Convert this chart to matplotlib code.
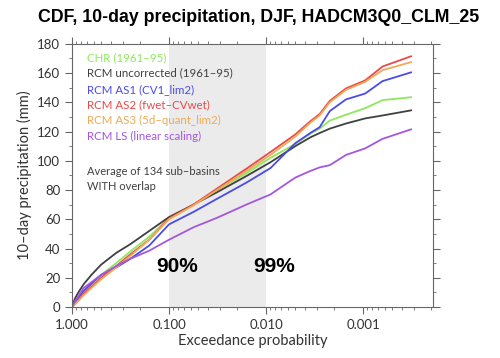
import numpy as np
import matplotlib
matplotlib.use('Agg')
import matplotlib.pyplot as plt
from matplotlib.ticker import MultipleLocator, FixedLocator, FixedFormatter, LogLocator

# Exceedance probabilities (shared by all curves)
prob = [1.0, 0.93, 0.85, 0.76, 0.63, 0.5, 0.35, 0.25, 0.16, 0.1, 0.056, 0.032,
        0.016, 0.009, 0.005, 0.0035, 0.0028, 0.0022, 0.0015, 0.00095, 0.00063, 0.00032]

# 10-day precipitation (mm)
chr_obs = [0, 3, 6, 10, 16, 22, 30, 38, 48, 61, 70, 80, 91.5, 102, 111.5, 118.5,
           122, 127.5, 131.5, 136, 141.5, 143.5]
rcm_unc = [0, 6, 10.5, 15.5, 22, 29, 37, 43, 52, 61.5, 70, 78.5, 89.5, 99, 110, 116,
           119, 122, 125.5, 129, 131, 134.5]
rcm_as1 = [0, 3, 7, 11, 16, 22, 27, 33, 42, 56.5, 65, 74, 85, 95, 112, 119,
           123, 134, 142, 146, 154.5, 160.5]
rcm_as2 = [0, 2, 5, 9, 14, 20, 28, 36, 46, 60.5, 70, 81, 94.5, 106, 118, 127,
           132, 141, 149.5, 155, 164.5, 171.5]
rcm_as3 = [0, 2, 4.5, 8, 13, 19, 27, 35, 46, 60, 69.5, 80, 93, 104, 116.5, 126,
           131, 140, 148.5, 154, 162, 167.5]
rcm_ls = [0, 4, 8, 13, 17, 22, 28, 33, 38.5, 46, 54.5, 61, 70, 77, 88.5, 93,
          95.5, 97, 104, 108.5, 115, 121.5]

labels = ['CHR (1961–95)', 'RCM uncorrected (1961–95)', 'RCM AS1 (CV1_lim2)',
          'RCM AS2 (fwet–CVwet)', 'RCM AS3 (5d–quant_lim2)', 'RCM LS (linear scaling)']
colors = ['#8ee85c', '#404040', '#4b4be6', '#e84a4a', '#f0a955', '#a556e0']
series = [chr_obs, rcm_unc, rcm_as1, rcm_as2, rcm_as3, rcm_ls]

xticks = [1.0, 0.1, 0.01, 0.001]
xticklabels = ['1.000', '0.100', '0.010', '0.001']

fig = plt.figure(figsize=(5, 3.58), dpi=100)
ax = fig.add_axes([0.144, 0.1425, 0.722, 0.735])

# shaded 90%-99% band
ax.axvspan(0.1, 0.01, color='#ebebeb', zorder=0, lw=0)

for vals, lab, c in zip(series, labels, colors):
    ax.plot(prob, vals, color=c, lw=1.3, label=lab)

ax.set_xscale('log')
ax.set_xlim(1.0, 1.9e-4)
ax.set_ylim(0, 180)

ax.xaxis.set_major_locator(FixedLocator(xticks))
ax.xaxis.set_major_formatter(FixedFormatter(xticklabels))
ax.xaxis.set_minor_locator(LogLocator(base=10, subs=np.arange(2, 10)))
ax.xaxis.set_minor_formatter(FixedFormatter([]))
ax.yaxis.set_major_locator(MultipleLocator(20))
ax.yaxis.set_minor_locator(MultipleLocator(10))

ax.tick_params(which='both', direction='out', top=True, right=True,
               color='#666666', labelsize=9.5, labelcolor='#333333')
ax.tick_params(which='major', length=5, width=0.8)
ax.tick_params(which='minor', length=2.5, width=0.6)
ax.tick_params(axis='x', which='both', labeltop=False)
ax.tick_params(axis='y', which='both', labelright=False)
for s in ax.spines.values():
    s.set_color('#666666')
    s.set_linewidth(0.8)

for lab in ax.get_xticklabels() + ax.get_yticklabels():
    lab.set_family('Lato')

ax.set_xlabel('Exceedance probability', fontsize=10.5, color='#333333', family='Lato', labelpad=2)
ax.set_ylabel('10–day precipitation (mm)', fontsize=10.5, color='#333333', family='Lato', labelpad=4)

leg = ax.legend(loc='upper left', frameon=False, handlelength=0, handletextpad=0,
                labelcolor='linecolor', prop={'family': 'Lato', 'size': 8.3},
                borderaxespad=0.3, labelspacing=0.42, bbox_to_anchor=(0.02, 1.0))
for h in leg.legend_handles:
    h.set_visible(False)

ax.text(1.0 * 10 ** -0.15, 87.5, 'Average of 134 sub–basins\nWITH overlap', fontsize=8,
        color='#404040', family='Lato', va='center', ha='left', linespacing=1.35)

ax.text(0.083, 27.5, '90%', fontsize=15, fontweight='bold', family='Liberation Sans',
        ha='center', va='center')
ax.text(0.0083, 27.5, '99%', fontsize=15, fontweight='bold', family='Liberation Sans',
        ha='center', va='center')

fig.suptitle('CDF, 10-day precipitation, DJF, HADCM3Q0_CLM_25', x=0.518, y=0.975,
             fontsize=12.8, fontweight='bold', family='Liberation Sans')

fig.savefig('out.png', dpi=100)
